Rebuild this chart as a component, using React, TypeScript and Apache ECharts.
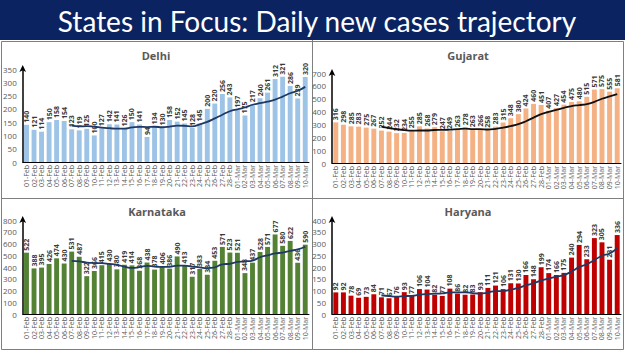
import React, { useEffect, useRef } from "react";
import * as echarts from "echarts";

const dates = [
  "01-Feb", "02-Feb", "03-Feb", "04-Feb", "05-Feb", "06-Feb", "07-Feb", "08-Feb", "09-Feb", "10-Feb",
  "11-Feb", "12-Feb", "13-Feb", "14-Feb", "15-Feb", "16-Feb", "17-Feb", "18-Feb", "19-Feb", "20-Feb",
  "21-Feb", "22-Feb", "23-Feb", "24-Feb", "25-Feb", "26-Feb", "27-Feb", "28-Feb",
  "01-Mar", "02-Mar", "03-Mar", "04-Mar", "05-Mar", "06-Mar", "07-Mar", "08-Mar", "09-Mar", "10-Mar",
];

const delhi = [140, 121, 114, 150, 158, 154, 123, 119, 125, 100, 127, 142, 141, 126, 150, 141, 94, 134, 130, 158,
  152, 145, 128, 145, 200, 220, 256, 243, 197, 175, 217, 240, 261, 312, 321, 286, 239, 320];
const gujarat = [316, 298, 285, 283, 275, 267, 252, 244, 232, 234, 255, 285, 268, 279, 247, 249, 263, 278, 263, 266,
  258, 283, 315, 348, 380, 424, 460, 451, 407, 427, 454, 475, 480, 515, 571, 575, 555, 581];
const karnataka = [522, 388, 395, 426, 474, 430, 531, 487, 322, 366, 415, 430, 380, 419, 414, 368, 438, 378, 406, 386,
  490, 413, 317, 383, 334, 453, 571, 523, 521, 348, 437, 528, 571, 677, 580, 622, 436, 590];
const haryana = [92, 92, 78, 69, 73, 84, 71, 67, 76, 93, 77, 106, 104, 82, 77, 108, 86, 82, 83, 93,
  111, 121, 106, 131, 130, 166, 148, 199, 174, 166, 175, 240, 294, 233, 323, 305, 231, 336];

const titleText = "States in Focus: Daily new cases trajectory";

// 7-day moving average trend line (as in the original's trendline)
function movingAvg(arr: number[], n = 7): (number | null)[] {
  return arr.map((_, i) => {
    if (i < n - 1) return null;
    let s = 0;
    for (let k = i - n + 1; k <= i; k++) s += arr[k];
    return s / n;
  });
}

const panels = [
  { name: "Delhi", data: delhi, max: 350, interval: 50, color: "#9dc3e6", line: "#1f3864", grid: { left: 20, top: 69, width: 289, height: 93 }, tx: 156, ty: 55 },
  { name: "Gujarat", data: gujarat, max: 700, interval: 100, color: "#f4b183", line: "#111111", grid: { left: 332, top: 73, width: 289, height: 90 }, tx: 468, ty: 55 },
  { name: "Karnataka", data: karnataka, max: 800, interval: 100, color: "#548235", line: "#1f3864", grid: { left: 20, top: 220, width: 289, height: 94 }, tx: 157, ty: 211 },
  { name: "Haryana", data: haryana, max: 400, interval: 50, color: "#c00000", line: "#1f3864", grid: { left: 332, top: 220, width: 289, height: 94 }, tx: 468, ty: 211 },
];

const FONT = "Open Sans";

export default function App() {
  const ref = useRef<HTMLDivElement>(null);
  useEffect(() => {
    document.body.style.margin = "0";
    const chart = echarts.init(ref.current!, null, { renderer: "svg" });
    const grids: any[] = [];
    const xAxes: any[] = [];
    const yAxes: any[] = [];
    const series: any[] = [];
    panels.forEach((p, i) => {
      grids.push({ ...p.grid, containLabel: false });
      xAxes.push({
        type: "category",
        gridIndex: i,
        data: dates,
        axisLine: { show: true, lineStyle: { color: "#000", width: 1 } },
        axisTick: { show: false },
        axisLabel: { interval: 0, rotate: 90, fontSize: 7, color: "#595959", fontFamily: FONT, margin: 3 },
      });
      yAxes.push({
        type: "value",
        gridIndex: i,
        min: 0,
        max: p.max,
        interval: p.interval,
        splitLine: { show: false },
        axisTick: { show: false },
        axisLine: { show: true, symbol: ["none", "arrow"], symbolSize: [5, 7], symbolOffset: [0, 4], lineStyle: { color: "#000", width: 1.5 } },
        axisLabel: { fontSize: 8, color: "#595959", fontFamily: FONT, margin: 6 },
      });
      series.push({
        type: "bar",
        xAxisIndex: i,
        yAxisIndex: i,
        data: p.data,
        barCategoryGap: "35%",
        itemStyle: { color: p.color },
        label: {
          show: true,
          position: "top",
          rotate: 90,
          align: "left",
          verticalAlign: "middle",
          distance: 2,
          fontSize: 7,
          fontWeight: "bold",
          color: "#3a3a3a",
          fontFamily: FONT,
        },
      });
      series.push({
        type: "line",
        xAxisIndex: i,
        yAxisIndex: i,
        data: movingAvg(p.data),
        smooth: true,
        symbol: "none",
        lineStyle: { color: p.line, width: 1.8 },
        z: 3,
      });
    });
    const graphic: any[] = [
      { type: "rect", shape: { x: 0, y: 0, width: 625, height: 40 }, style: { fill: "#0b2461" } },
      {
        type: "text",
        style: { text: titleText, x: 317, y: 21, textAlign: "center", textVerticalAlign: "middle", font: `28px Lato`, fill: "#ffffff" },
      },
      { type: "rect", shape: { x: 1.5, y: 41.5, width: 622, height: 308 }, style: { fill: "none", stroke: "#7f7f7f", lineWidth: 1 } },
      { type: "line", shape: { x1: 312.5, y1: 40, x2: 312.5, y2: 350 }, style: { stroke: "#7f7f7f", lineWidth: 1 } },
      { type: "line", shape: { x1: 1, y1: 198.5, x2: 624, y2: 198.5 }, style: { stroke: "#7f7f7f", lineWidth: 1 } },
    ];
    panels.forEach((p) => {
      graphic.push({
        type: "text",
        style: { text: p.name, x: p.tx, y: p.ty, textAlign: "center", textVerticalAlign: "middle", font: `bold 11px "${FONT}"`, fill: "#595959" },
      });
    });
    chart.setOption({
      animation: false,
      backgroundColor: "#ffffff",
      grid: grids,
      xAxis: xAxes,
      yAxis: yAxes,
      series,
      graphic,
    });
    return () => chart.dispose();
  }, []);
  return <div ref={ref} style={{ width: 625, height: 351, position: "absolute", left: 0, top: 0 }} />;
}
